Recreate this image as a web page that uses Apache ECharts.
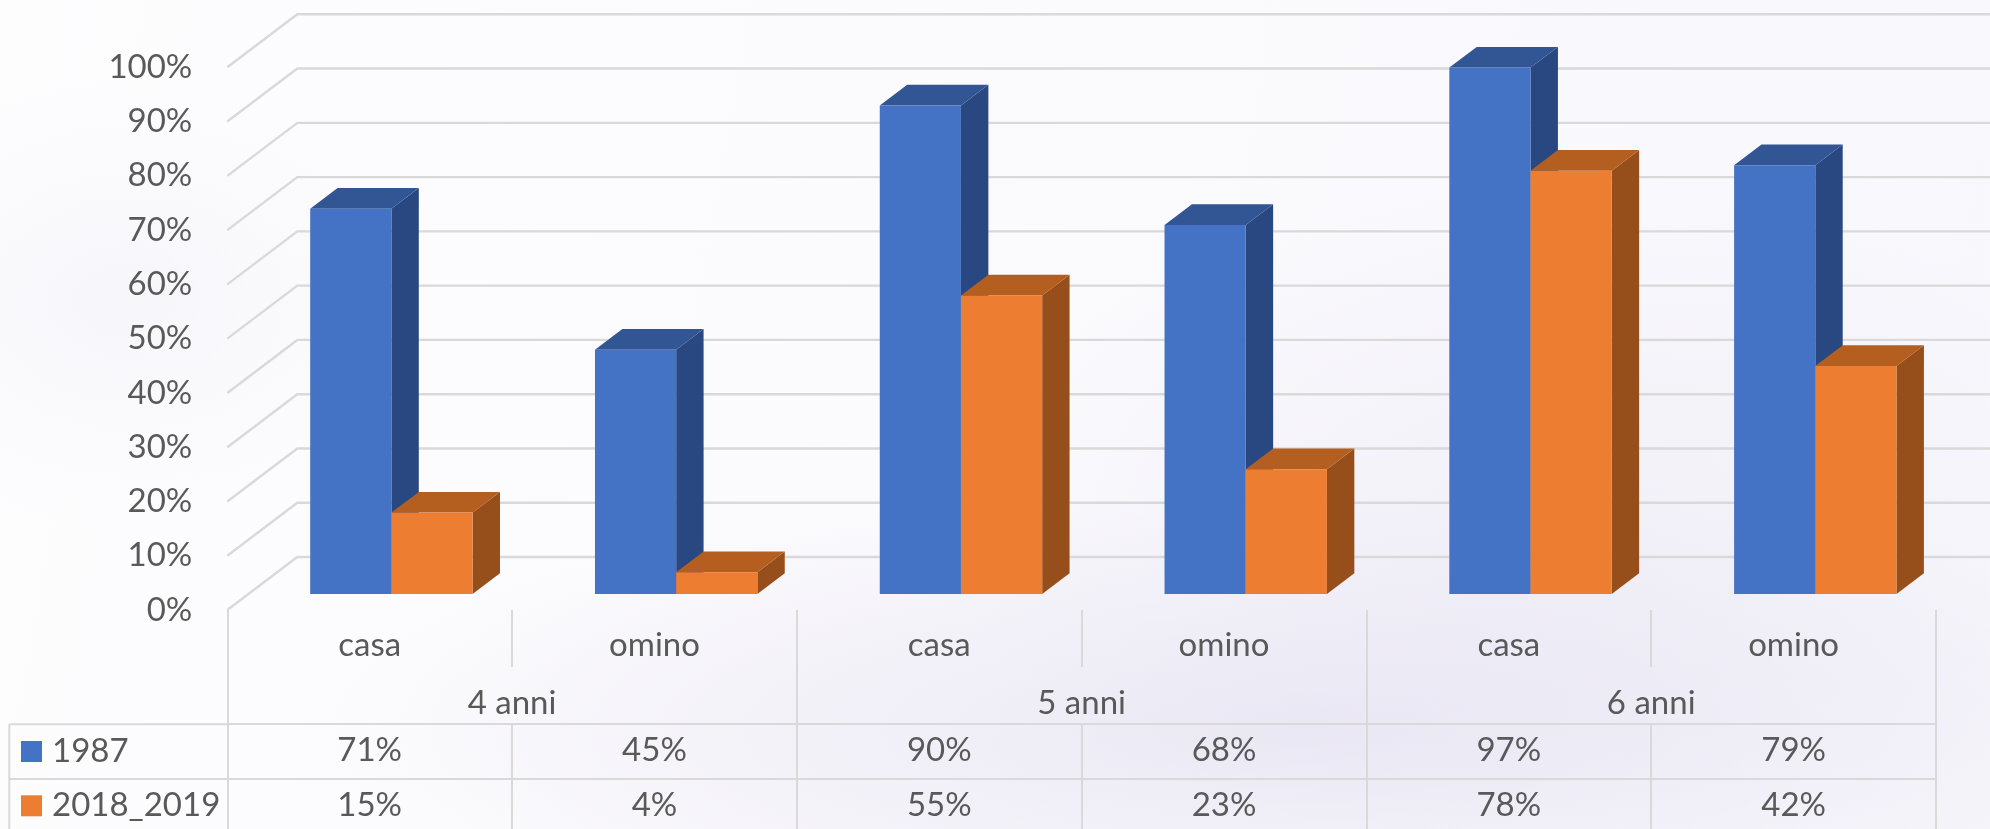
<!DOCTYPE html>
<html><head><meta charset="utf-8">
<script src="https://cdn.jsdelivr.net/npm/echarts@6/dist/echarts.min.js"></script>
<style>
html,body{margin:0;padding:0;width:1990px;height:829px;overflow:hidden;
background:
 radial-gradient(ellipse 1000px 240px at 1300px 730px, rgba(224,221,238,.6), rgba(224,221,238,0) 100%),
 radial-gradient(ellipse 620px 330px at 1560px 520px, rgba(232,230,243,.45), rgba(232,230,243,0) 100%),
 radial-gradient(ellipse 300px 220px at 120px 300px, rgba(236,234,245,.35), rgba(236,234,245,0) 100%),
 linear-gradient(100deg,#fdfdfe 0%,#fbfafd 45%,#f8f7fc 100%);}
#c{width:1990px;height:829px}
</style></head><body><div id="c"></div>
<script>
const categories=['casa','omino','casa','omino','casa','omino'];
const groups=['4 anni','5 anni','6 anni'];
const ticks=[0,10,20,30,40,50,60,70,80,90,100];
const name1='1987', name2='2018_2019';
const values1=[71,45,90,68,97,79];
const values2=[15,4,55,23,78,42];

const TXT='#595959', LINE='#d9d9d9', FONT='Lato';
const FS=33;
const wallDX=70, wallDY=53;       // depth of the chart floor
const barDX=27.4, barDY=20.7;     // depth of a bar
const shiftX=21.7, shiftY=16;     // bars stand inside the floor
const barW=81.2;

const chart=echarts.init(document.getElementById('c'),null,{renderer:'canvas'});

function bar3d(side,colors){
  return function(params,api){
    const i=api.value(0), v=api.value(1);
    const top=api.coord([i,v]), base=api.coord([i,0]);
    const x=top[0]+shiftX+(side<0?-barW:0), y=top[1]-shiftY, y0=base[1]-shiftY;
    const x1=x+barW;
    return {type:'group',children:[
      {type:'polygon',shape:{points:[[x1,y],[x1+barDX,y-barDY],[x1+barDX,y0-barDY],[x1,y0]]},style:{fill:colors[2]}},
      {type:'polygon',shape:{points:[[x,y],[x+barDX,y-barDY],[x1+barDX,y-barDY],[x1,y]]},style:{fill:colors[1]}},
      {type:'rect',shape:{x:x,y:y,width:barW,height:y0-y},style:{fill:colors[0]}}
    ]};
  };
}
function wall(params,api){
  const p=api.coord([0,api.value(0)]);
  const cs=params.coordSys;
  const x=cs.x, y=p[1], r=cs.x+cs.width+wallDX;
  return {type:'polyline',shape:{points:[[x,y],[x+wallDX,y-wallDY],[r,y-wallDY]]},
    style:{stroke:LINE,lineWidth:2.4,fill:null}};
}
const labelBase={color:TXT,fontFamily:FONT,fontSize:FS,interval:0};
const hidden={show:false};

chart.setOption({
  animation:false,
  backgroundColor:'transparent',
  grid:{left:227.3,right:54,top:67.3,bottom:219,containLabel:false},
  legend:{orient:'vertical',left:21,top:735,height:200,padding:0,itemWidth:21,itemHeight:21,itemGap:21.3,
    data:[name1,name2],selectedMode:false,icon:'rect',
    textStyle:{color:TXT,fontFamily:FONT,fontSize:FS,padding:[0,0,0,5],lineHeight:21}},
  xAxis:[
    {type:'category',data:categories,position:'bottom',axisLine:hidden,
      axisTick:{show:true,length:57,lineStyle:{color:LINE,width:2}},
      axisLabel:Object.assign({},labelBase,{margin:19})},
    {type:'category',data:groups,position:'bottom',axisLine:hidden,
      axisTick:{show:true,length:219,lineStyle:{color:LINE,width:2}},
      axisLabel:Object.assign({},labelBase,{margin:77})},
    {type:'category',data:values1.map(v=>v+'%'),position:'bottom',offset:114,
      axisLine:{show:true,lineStyle:{color:LINE,width:2}},
      axisTick:{show:true,length:105,lineStyle:{color:LINE,width:2}},
      axisLabel:Object.assign({},labelBase,{margin:10})},
    {type:'category',data:values2.map(v=>v+'%'),position:'bottom',offset:169,
      axisLine:{show:true,lineStyle:{color:LINE,width:2}},
      axisTick:hidden,
      axisLabel:Object.assign({},labelBase,{margin:10})}
  ],
  yAxis:{type:'value',min:0,max:100,interval:10,axisLine:hidden,axisTick:hidden,splitLine:hidden,
    axisLabel:{color:TXT,fontFamily:FONT,fontSize:FS,margin:35,padding:[5,0,0,0],formatter:'{value}%'}},
  graphic:[
    {type:'line',shape:{x1:9.3,y1:724.3,x2:227.3,y2:724.3},style:{stroke:LINE,lineWidth:2},silent:true},
    {type:'line',shape:{x1:9.3,y1:779,x2:227.3,y2:779},style:{stroke:LINE,lineWidth:2},silent:true},
    {type:'line',shape:{x1:9.3,y1:724.3,x2:9.3,y2:829},style:{stroke:LINE,lineWidth:2},silent:true}
  ],
  series:[
    {type:'custom',name:'wall',silent:true,clip:false,z:1,data:ticks.map(t=>[t]),encode:{y:0},renderItem:wall},
    {type:'custom',name:name1,z:2,itemStyle:{color:'#4472C4'},data:values1.map((v,i)=>[i,v]),encode:{x:0,y:1},
      renderItem:bar3d(-1,['#4472C4','#325694','#294780'])},
    {type:'custom',name:name2,z:3,itemStyle:{color:'#ED7D31'},data:values2.map((v,i)=>[i,v]),encode:{x:0,y:1},
      renderItem:bar3d(1,['#ED7D31','#B45E20','#964F1B'])}
  ]
});
</script></body></html>
